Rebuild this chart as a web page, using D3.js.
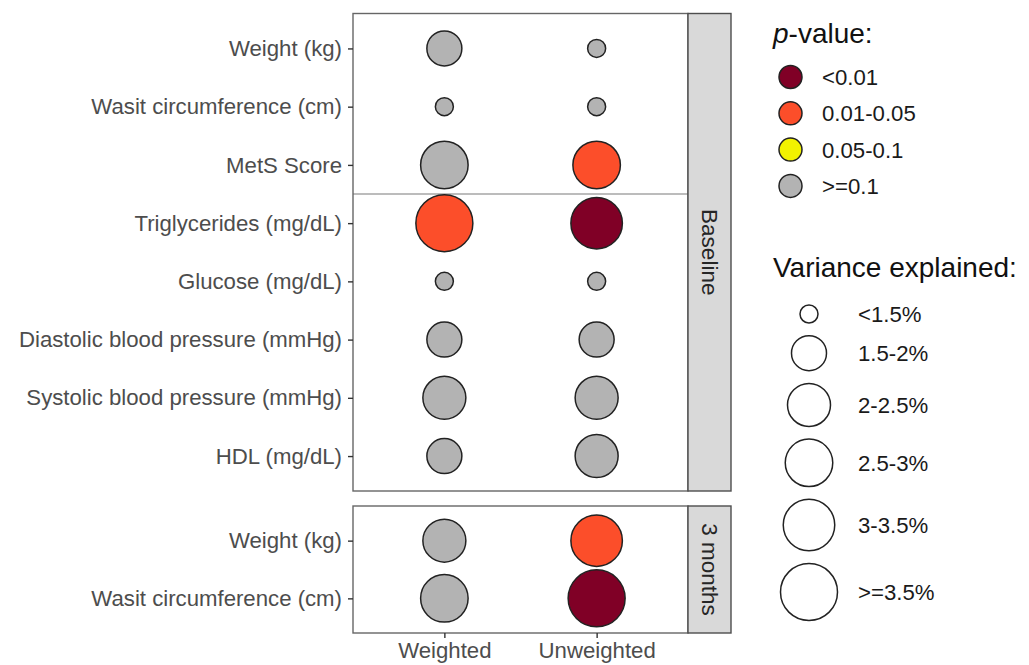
<!DOCTYPE html>
<html>
<head>
<meta charset="utf-8">
<script src="https://cdn.jsdelivr.net/npm/d3@7"></script>
<style>
  html, body { margin: 0; padding: 0; background: #fff; }
  svg { display: block; font-family: "Liberation Sans", Arial, Helvetica, sans-serif; }
</style>
</head>
<body>
<svg id="chart" width="1029" height="665"></svg>
<script>
// ---- data ---------------------------------------------------------------
const panels = ["Baseline", "3 months"];
const baselineVars = ["Weight (kg)", "Wasit circumference (cm)", "MetS Score",
  "Triglycerides (mg/dL)", "Glucose (mg/dL)", "Diastolic blood pressure (mmHg)",
  "Systolic blood pressure (mmHg)", "HDL (mg/dL)"];
const monthVars = ["Weight (kg)", "Wasit circumference (cm)"];
const methods = ["Weighted", "Unweighted"];

const pLevels = ["<0.01", "0.01-0.05", "0.05-0.1", ">=0.1"];
const pColors = ["#800026", "#FC4E2A", "#F2F200", "#B3B3B3"];
const varLevels = ["<1.5%", "1.5-2%", "2-2.5%", "2.5-3%", "3-3.5%", ">=3.5%"];

// variance explained / p-value class per variable, baseline panel
const baselineWeightedVar   = ["1.5-2%", "<1.5%", "2.5-3%", ">=3.5%", "<1.5%", "1.5-2%", "2-2.5%", "1.5-2%"];
const baselineUnweightedVar = ["<1.5%", "<1.5%", "2.5-3%", "3-3.5%", "<1.5%", "1.5-2%", "2-2.5%", "2-2.5%"];
const baselineWeightedP     = [">=0.1", ">=0.1", ">=0.1", "0.01-0.05", ">=0.1", ">=0.1", ">=0.1", ">=0.1"];
const baselineUnweightedP   = [">=0.1", ">=0.1", "0.01-0.05", "<0.01", ">=0.1", ">=0.1", ">=0.1", ">=0.1"];

// 3 months panel
const monthWeightedVar   = ["2-2.5%", "2.5-3%"];
const monthUnweightedVar = ["3-3.5%", ">=3.5%"];
const monthWeightedP     = [">=0.1", ">=0.1"];
const monthUnweightedP   = ["0.01-0.05", "<0.01"];

// ---- scales -------------------------------------------------------------
const svg = d3.select("#chart");
const panelLeft = 353, panelRight = 688, stripW = 43;
const panelBoxes = [
  { name: panels[0], top: 13.5, bottom: 491, vars: baselineVars,
    wv: baselineWeightedVar, uv: baselineUnweightedVar, wp: baselineWeightedP, up: baselineUnweightedP },
  { name: panels[1], top: 506, bottom: 633, vars: monthVars,
    wv: monthWeightedVar, uv: monthUnweightedVar, wp: monthWeightedP, up: monthUnweightedP }
];

const x = d3.scalePoint().domain(methods).range([panelLeft, panelRight]).padding(0.6);
const color = d3.scaleOrdinal().domain(pLevels).range(pColors);
const size = d3.scaleOrdinal().domain(varLevels).range([9, 17.5, 21.5, 23.75, 25.75, 28.5]);

const axisFont = "22.2px";

panelBoxes.forEach((p, pi) => {
  const y = d3.scalePoint().domain(p.vars.map((v, i) => i)).range([p.top, p.bottom]).padding(0.6);
  const g = svg.append("g");

  // panel background
  g.append("rect")
    .attr("x", panelLeft).attr("y", p.top)
    .attr("width", panelRight - panelLeft).attr("height", p.bottom - p.top)
    .attr("fill", "#fff");

  // separator between body-size and metabolic outcomes
  if (pi === 0) {
    const sepY = (y(2) + y(3)) / 2;
    g.append("line")
      .attr("x1", panelLeft).attr("x2", panelRight)
      .attr("y1", sepY).attr("y2", sepY)
      .attr("stroke", "#a6a6a6").attr("stroke-width", 1.5);
  }

  // bubbles
  const rows = [];
  p.vars.forEach((v, i) => {
    rows.push({ i, method: "Weighted", vc: p.wv[i], pc: p.wp[i] });
    rows.push({ i, method: "Unweighted", vc: p.uv[i], pc: p.up[i] });
  });
  g.selectAll("circle.bubble").data(rows).join("circle")
    .attr("class", "bubble")
    .attr("cx", d => x(d.method))
    .attr("cy", d => y(d.i))
    .attr("r", d => size(d.vc))
    .attr("fill", d => color(d.pc))
    .attr("stroke", "#222")
    .attr("stroke-width", 1.5);

  // panel border
  g.append("rect")
    .attr("x", panelLeft).attr("y", p.top)
    .attr("width", panelRight - panelLeft).attr("height", p.bottom - p.top)
    .attr("fill", "none").attr("stroke", "#666").attr("stroke-width", 1.4);

  // strip
  g.append("rect")
    .attr("x", panelRight).attr("y", p.top)
    .attr("width", stripW).attr("height", p.bottom - p.top)
    .attr("fill", "#D9D9D9").attr("stroke", "#4d4d4d").attr("stroke-width", 1.4);
  g.append("text")
    .attr("transform", `translate(${panelRight + stripW / 2},${(p.top + p.bottom) / 2}) rotate(90)`)
    .attr("text-anchor", "middle").attr("dy", "0.35em")
    .attr("font-size", "22.5px").attr("fill", "#262626")
    .text(p.name);

  // y axis
  const ya = g.append("g")
    .attr("transform", `translate(${panelLeft},0)`)
    .call(d3.axisLeft(y).tickSize(5).tickPadding(6).tickFormat(i => p.vars[i]));
  ya.select(".domain").remove();
  ya.selectAll(".tick line").attr("stroke", "#333").attr("stroke-width", 1.4);
  ya.selectAll(".tick text").attr("font-size", axisFont).attr("fill", "#4D4D4D")
    .attr("font-family", "'Liberation Sans', Arial, sans-serif");

  // x axis under the last panel
  if (pi === panelBoxes.length - 1) {
    const xa = g.append("g")
      .attr("transform", `translate(0,${p.bottom})`)
      .call(d3.axisBottom(x).tickSize(5).tickPadding(4.5));
    xa.select(".domain").remove();
    xa.selectAll(".tick line").attr("stroke", "#333").attr("stroke-width", 1.4);
    xa.selectAll(".tick text").attr("font-size", axisFont).attr("fill", "#4D4D4D")
      .attr("font-family", "'Liberation Sans', Arial, sans-serif");
  }
});

// ---- legends ------------------------------------------------------------
const lg = svg.append("g");
const pTitle = lg.append("text").attr("x", 773).attr("y", 43)
  .attr("font-size", "28px").attr("fill", "#111");
pTitle.append("tspan").attr("font-style", "italic").text("p");
pTitle.append("tspan").text("-value:");

pLevels.forEach((lvl, i) => {
  const cy = 77 + i * 36.3;
  lg.append("circle").attr("cx", 790.5).attr("cy", cy).attr("r", 11.5)
    .attr("fill", color(lvl)).attr("stroke", "#222").attr("stroke-width", 1.5);
  lg.append("text").attr("x", 822).attr("y", cy).attr("dy", "0.36em")
    .attr("font-size", "22.2px").attr("fill", "#1a1a1a").text(lvl);
});

lg.append("text").attr("x", 773).attr("y", 277)
  .attr("font-size", "28px").attr("fill", "#111").text("Variance explained:");

// size keys stacked with a fixed gap between neighbouring circles
const keyGap = 12.7;
let edge = 314 - size(varLevels[0]);
varLevels.forEach((lvl, i) => {
  const r = size(lvl);
  if (i > 0) edge += keyGap;
  const c = edge + r;
  lg.append("circle").attr("cx", 809).attr("cy", c).attr("r", r)
    .attr("fill", "#fff").attr("stroke", "#222").attr("stroke-width", 1.5);
  lg.append("text").attr("x", 858).attr("y", c).attr("dy", "0.36em")
    .attr("font-size", "22.2px").attr("fill", "#1a1a1a").text(lvl);
  edge = c + r;
});
</script>
</body>
</html>
